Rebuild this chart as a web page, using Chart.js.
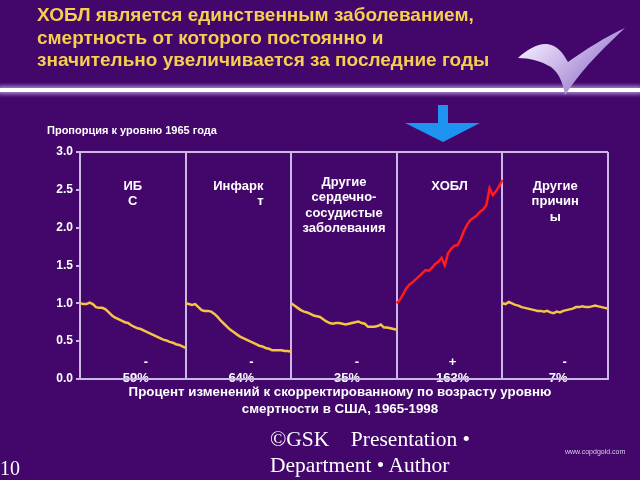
<!DOCTYPE html>
<html>
<head>
<meta charset="utf-8">
<script src="https://cdn.jsdelivr.net/npm/chart.js@4.4.1/dist/chart.umd.min.js"></script>
<style>
  html, body { margin: 0; padding: 0; }
  body { width: 640px; height: 480px; background: #43066b; position: relative; overflow: hidden; font-family: "Liberation Sans", Arial, sans-serif; }
  #chart { position: absolute; left: 0; top: 0; }
  .title { position: absolute; left: 37px; top: 4px; color: #f6cf4e; font-weight: bold; font-size: 19px; line-height: 22.5px; }
  .rule { position: absolute; left: 0; top: 88px; width: 640px; height: 4px; background: #fff; box-shadow: 0 0 4px 2px rgba(220,200,255,0.7); }
  .ytitle { position: absolute; left: 47px; top: 124px; color: #fff; font-weight: bold; font-size: 11px; }
  .xtitle { position: absolute; left: 0; width: 680px; top: 383px; text-align: center; color: #fff; font-weight: bold; font-size: 13.3px; line-height: 17px; }
  .footer { position: absolute; left: 270px; top: 426px; color: #fff; font-family: "Liberation Serif", "Times New Roman", serif; font-size: 21.5px; line-height: 26px; }
  .pageno { position: absolute; left: 0; top: 457px; color: #fff; font-family: "Liberation Serif", serif; font-size: 20px; }
  .site { position: absolute; left: 565px; top: 448px; color: #d8d0e8; font-size: 7px; }
  svg { position: absolute; }
</style>
</head>
<body>
<canvas id="chart" width="640" height="480"></canvas>

<div class="title">ХОБЛ является единственным заболеванием,<br>смертность от которого постоянно и<br>значительно увеличивается за последние годы</div>
<div class="rule"></div>

<!-- логотип -->
<svg style="left:515px;top:25px" width="115" height="75" viewBox="0 0 115 75">
  <defs>
    <linearGradient id="sw" x1="0" y1="0" x2="1" y2="0.6">
      <stop offset="0" stop-color="#ffffff"/>
      <stop offset="0.45" stop-color="#d2c0ee"/>
      <stop offset="1" stop-color="#8f70c4"/>
    </linearGradient>
  </defs>
  <path d="M3 33 C12 24 24 18 32 19 C42 20 48 28 53 37 C70 25 90 12 110 3 C92 20 70 40 50 70 C48 58 44 48 36 42 C26 36 14 33 3 33 Z" fill="url(#sw)"/>
</svg>

<!-- стрелка -->
<svg style="left:400px;top:100px" width="85" height="45" viewBox="0 0 85 45">
  <polygon points="38,5 48,5 48,23 80,23 43,42 5,23 38,23" fill="#1f93f0"/>
</svg>

<div class="ytitle">Пропорция к уровню 1965 года</div>
<div class="xtitle">Процент изменений к скорректированному по возрасту уровню<br>смертности в США, 1965-1998</div>
<div class="footer">©GSK&nbsp;&nbsp;&nbsp; Presentation •<br>Department • Author</div>
<div class="pageno">10</div>
<div class="site">www.copdgold.com</div>

<script>
// ======================
// Данные
// ======================

const years = [1965, 1966, 1967, 1968, 1969, 1970, 1971, 1972, 1973, 1974, 1975, 1976,
    1977, 1978, 1979, 1980, 1981, 1982, 1983, 1984, 1985, 1986, 1987, 1988, 1989,
    1990, 1991, 1992, 1993, 1994, 1995, 1996, 1997, 1998];

const panelLabels = [
    ['ИБ', 'С'],
    ['Инфарк', 'т'],
    ['Другие', 'сердечно-', 'сосудистые', 'заболевания'],
    ['ХОБЛ'],
    ['Другие', 'причин', 'ы']
];
const changeSigns = ['-', '-', '-', '+', '-'];
const changePct = ['59%', '64%', '35%', '163%', '7%'];

const ihd = [1.00, 0.99, 0.99, 1.01, 0.99, 0.95, 0.94, 0.94, 0.92, 0.88, 0.84, 0.81,
    0.79, 0.77, 0.75, 0.74, 0.71, 0.69, 0.67, 0.66, 0.64, 0.62, 0.60, 0.58, 0.56,
    0.54, 0.52, 0.51, 0.49, 0.48, 0.46, 0.45, 0.43, 0.41];
const stroke = [1.00, 0.99, 0.98, 0.99, 0.95, 0.91, 0.90, 0.90, 0.89, 0.86, 0.82, 0.77,
    0.73, 0.69, 0.65, 0.62, 0.59, 0.56, 0.54, 0.52, 0.50, 0.48, 0.46, 0.44, 0.43,
    0.41, 0.40, 0.38, 0.38, 0.38, 0.38, 0.37, 0.37, 0.36];
const otherCvd = [1.00, 0.97, 0.94, 0.91, 0.89, 0.88, 0.86, 0.84, 0.83, 0.82, 0.79, 0.76,
    0.74, 0.73, 0.74, 0.74, 0.73, 0.72, 0.73, 0.74, 0.75, 0.76, 0.74, 0.73, 0.69,
    0.69, 0.69, 0.70, 0.72, 0.68, 0.68, 0.67, 0.66, 0.65];
const copd = [1.00, 1.05, 1.12, 1.20, 1.25, 1.28, 1.32, 1.36, 1.40, 1.44, 1.43, 1.47,
    1.52, 1.55, 1.60, 1.50, 1.66, 1.72, 1.76, 1.77, 1.85, 1.96, 2.04, 2.10, 2.13,
    2.16, 2.21, 2.24, 2.30, 2.52, 2.43, 2.48, 2.55, 2.63];
const otherCauses = [1.00, 0.99, 1.02, 1.00, 0.98, 0.97, 0.95, 0.94, 0.93, 0.92, 0.91, 0.90,
    0.90, 0.89, 0.90, 0.88, 0.87, 0.89, 0.88, 0.90, 0.91, 0.92, 0.93, 0.95, 0.95,
    0.96, 0.95, 0.95, 0.96, 0.97, 0.96, 0.95, 0.94, 0.93];

const series = [ihd, stroke, otherCvd, copd, otherCauses];
const yTicks = [0, 0.5, 1, 1.5, 2, 2.5, 3];

// ======================
// Построение графика
// ======================

const yellow = '#f4c542';
const red = '#ff1c1c';
const frame = '#c9b9e4';
const labelFont = 'bold 13px "Liberation Sans", Arial, sans-serif';

// каждая панель занимает единицу по оси X
function toPoints(values, panel) {
    const first = years[0];
    const span = years[years.length - 1] - first;
    return values.map((v, i) => ({ x: panel + (years[i] - first) / span, y: v }));
}

const panelText = {
    id: 'panelText',
    // подписи процентов рисуем до осей, чтобы линия оси шла поверх текста
    beforeDraw(chart) {
        const { ctx, scales: { x, y } } = chart;
        ctx.save();
        ctx.fillStyle = '#ffffff';
        ctx.font = labelFont;
        ctx.textBaseline = 'middle';
        for (let i = 0; i < series.length; i++) {
            const cx = x.getPixelForValue(i + 0.5) + 3;
            const pctY = y.getPixelForValue(0) - 1;
            ctx.textAlign = 'center';
            ctx.fillText(changePct[i], cx, pctY);
            const w = ctx.measureText(changePct[i]).width;
            const signX = changeSigns[i] === '+' ? cx : cx + w / 2 - 3;
            ctx.fillText(changeSigns[i], signX, y.getPixelForValue(0.22));
        }
        ctx.restore();
    },
    afterDatasetsDraw(chart) {
        const { ctx, scales: { x, y } } = chart;
        ctx.save();
        ctx.fillStyle = '#ffffff';
        ctx.font = labelFont;
        ctx.textBaseline = 'middle';
        panelLabels.forEach((lines, i) => {
            const cx = x.getPixelForValue(i + 0.5);
            let top = y.getPixelForValue(2.55);
            if (lines.length > 3) top -= 4;
            const step = lines.length > 3 ? 15.5 : 15.5;
            if (i === 1) {
                // "Инфаркт" перенесено с выравниванием по правому краю
                const right = cx + ctx.measureText(lines[0]).width / 2;
                ctx.textAlign = 'right';
                lines.forEach((t, k) => ctx.fillText(t, right, top + k * step));
            } else {
                ctx.textAlign = 'center';
                lines.forEach((t, k) => ctx.fillText(t, cx, top + k * step));
            }
        });
        ctx.restore();
    }
};

new Chart(document.getElementById('chart'), {
    type: 'line',
    data: {
        datasets: series.map((values, i) => ({
            data: toPoints(values, i),
            borderColor: i === 3 ? red : yellow,
            borderWidth: 2.5,
            pointRadius: 0,
            tension: 0
        }))
    },
    options: {
        responsive: false,
        animation: false,
        layout: { padding: { top: 152, right: 32, left: 0, bottom: 0 } },
        plugins: { legend: { display: false }, tooltip: { enabled: false } },
        scales: {
            x: {
                type: 'linear',
                min: 0,
                max: series.length,
                ticks: { stepSize: 1, display: false },
                grid: { color: frame, lineWidth: 2, drawTicks: false },
                border: { color: frame, width: 2 },
                afterFit: s => { s.height = 101; }
            },
            y: {
                min: 0,
                max: 3,
                afterBuildTicks: s => { s.ticks = yTicks.map(v => ({ value: v })); },
                ticks: {
                    color: '#ffffff',
                    padding: 3,
                    font: { family: '"Liberation Sans", Arial, sans-serif', size: 12, weight: 'bold' },
                    callback: v => v.toFixed(1)
                },
                grid: {
                    color: c => (c.tick && c.tick.value === 3 ? frame : 'transparent'),
                    tickColor: frame,
                    tickLength: 4,
                    lineWidth: 2
                },
                border: { color: frame, width: 2 },
                afterFit: s => { s.width = 80; }
            }
        }
    },
    plugins: [panelText]
});
</script>
</body>
</html>
